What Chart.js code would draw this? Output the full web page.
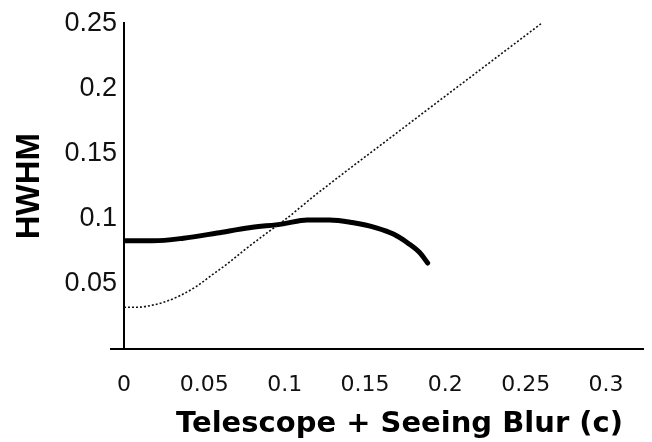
<!DOCTYPE html>
<html>
<head>
<meta charset="utf-8">
<script src="https://cdn.jsdelivr.net/npm/chart.js@4.4.1/dist/chart.umd.min.js"></script>
<style>
  html, body { margin: 0; padding: 0; background: #fff; }
  #wrap { width: 652px; height: 442px; }
</style>
</head>
<body>
<div id="wrap"><canvas id="chart" width="652" height="442"></canvas></div>
<script>
// Telescope + seeing blur (c) against HWHM
const seeingBlurC = [0, 0.008, 0.015, 0.025, 0.035, 0.045, 0.055, 0.065, 0.075, 0.09, 0.1, 0.12, 0.17, 0.26];
const seeingHwhm  = [0.032, 0.032, 0.033, 0.036, 0.041, 0.048, 0.057, 0.066, 0.076, 0.090, 0.099, 0.119, 0.166, 0.25];

const measuredC    = [0, 0.018, 0.037, 0.058, 0.078, 0.099, 0.114, 0.128, 0.142, 0.157, 0.168, 0.177, 0.184, 0.189];
const measuredHwhm = [0.083, 0.083, 0.085, 0.089, 0.093, 0.096, 0.099, 0.099, 0.097, 0.093, 0.088, 0.081, 0.074, 0.066];

const xTickValues = [0, 0.05, 0.1, 0.15, 0.2, 0.25, 0.3];
const xTickLabels = ['0', '0.05', '0.1', '0.15', '0.2', '0.25', '0.3'];
const yTickValues = [0.05, 0.1, 0.15, 0.2, 0.25];
const yTickLabels = ['0.05', '0.1', '0.15', '0.2', '0.25'];

const toPoints = (xs, ys) => xs.map((x, i) => ({ x: x, y: ys[i] }));

// Horizontal axis line, running a little past both ends of the plot area
const baseAxisLine = {
  id: 'baseAxisLine',
  afterDraw(chart) {
    const { ctx, chartArea, scales } = chart;
    const py = Math.round(scales.y.getPixelForValue(0));
    ctx.save();
    ctx.strokeStyle = '#000';
    ctx.lineWidth = 2;
    ctx.beginPath();
    ctx.moveTo(chartArea.left - 14, py);
    ctx.lineTo(chart.width - 8, py);
    ctx.stroke();
    ctx.restore();
  }
};

new Chart(document.getElementById('chart'), {
  type: 'line',
  data: {
    datasets: [
      {
        data: toPoints(seeingBlurC, seeingHwhm),
        borderColor: '#111',
        borderWidth: 1.6,
        borderDash: [2, 2],
        pointRadius: 0,
        cubicInterpolationMode: 'monotone',
        fill: false
      },
      {
        data: toPoints(measuredC, measuredHwhm),
        borderColor: '#000',
        borderWidth: 5,
        borderCapStyle: 'round',
        borderJoinStyle: 'round',
        pointRadius: 0,
        cubicInterpolationMode: 'monotone',
        fill: false
      }
    ]
  },
  options: {
    responsive: false,
    animation: false,
    layout: { padding: { left: 0, right: 29, top: 20, bottom: 0 } },
    plugins: {
      legend: { display: false },
      tooltip: { enabled: false }
    },
    scales: {
      x: {
        type: 'linear',
        min: 0,
        max: 0.3106,
        grid: { display: false, drawTicks: false },
        border: { display: false },
        afterBuildTicks(scale) { scale.ticks = xTickValues.map(v => ({ value: v })); },
        afterFit(scale) { scale.height = 93; },
        ticks: {
          padding: 23,
          color: '#111',
          autoSkip: false,
          maxRotation: 0,
          font: { family: 'DejaVu Sans', size: 22 },
          callback: (v, i) => xTickLabels[i]
        },
        title: {
          display: true,
          text: 'Telescope + Seeing Blur (c)',
          align: 'end',
          color: '#000',
          padding: { top: 0, bottom: 0 },
          font: { family: 'DejaVu Sans', size: 29, weight: 'bold' }
        }
      },
      y: {
        type: 'linear',
        min: 0,
        max: 0.25,
        grid: { display: false, drawTicks: false },
        border: { display: true, color: '#000', width: 2 },
        afterBuildTicks(scale) { scale.ticks = yTickValues.map(v => ({ value: v })); },
        afterFit(scale) { scale.width = 124; },
        ticks: {
          padding: 7,
          color: '#111',
          autoSkip: false,
          font: { family: 'Liberation Sans', size: 27 },
          callback: (v, i) => yTickLabels[i]
        },
        title: {
          display: true,
          text: 'HWHM',
          color: '#000',
          padding: { top: 10, bottom: 0 },
          font: { family: 'Liberation Sans', size: 33, weight: 'bold' }
        }
      }
    }
  },
  plugins: [baseAxisLine]
});
</script>
</body>
</html>
